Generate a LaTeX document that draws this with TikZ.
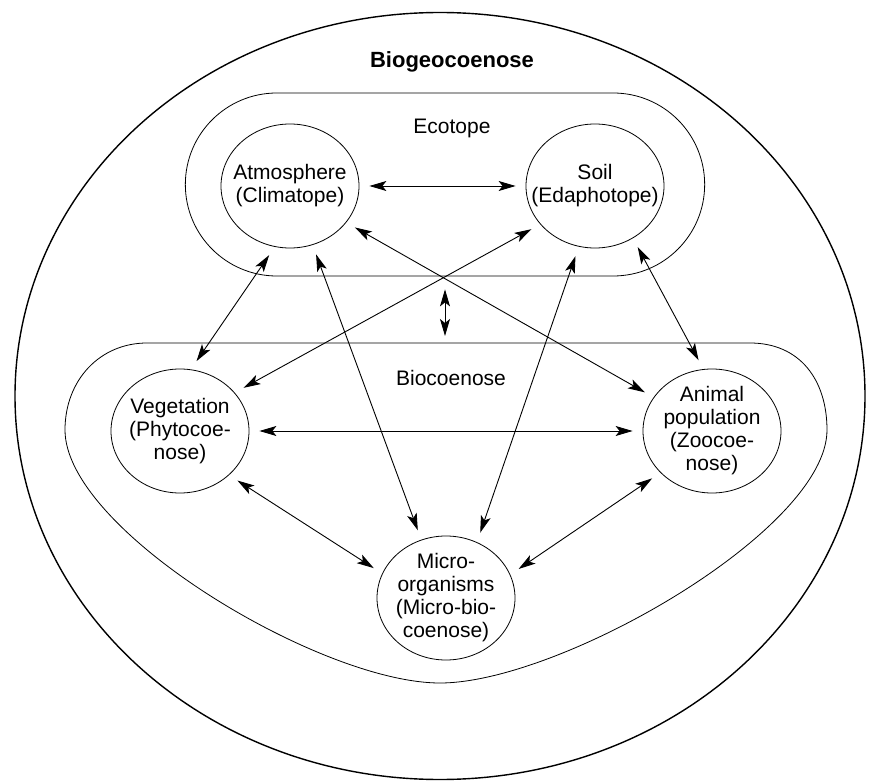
\documentclass[tikz,border=0pt]{standalone}
\usepackage{fontspec}
\setmainfont{Liberation Sans}
\usetikzlibrary{arrows.meta,shapes.geometric,shapes.misc}
\tikzset{
  region/.style={draw, ellipse, minimum width=138pt, minimum height=124pt, line width=0.8pt},
  txt/.style={align=center, font=\fontsize{21}{23}\selectfont},
  link/.style={{Stealth[length=17pt,width=10pt,inset=4pt]}-{Stealth[length=17pt,width=10pt,inset=4pt]}, line width=0.9pt, shorten >=10pt, shorten <=10pt}
}
\begin{document}
\begin{tikzpicture}[x=1pt, y=-1pt]
	\path[use as bounding box, fill=white] (0,0) rectangle (870,783);

	% systems
	\node[draw, ellipse, minimum width=850pt, minimum height=767pt, line width=1.4pt] (bgc) at (440,396) {};
	\node[font=\fontsize{22}{24}\selectfont\bfseries] (bgclbl) at (452,62) {Biogeocoenose};
	\node[draw, rounded rectangle, minimum width=526pt, minimum height=183pt, line width=0.8pt] (eco) at (445,184.5) {};
	\node[txt] (ecolbl) at (452,128) {Ecotope};
	\draw[line width=0.8pt] (147,343) -- (750,343) .. controls (800,343) and (827,380) .. (827,430)
		.. controls (827,530) and (560,683) .. (440,683)
		.. controls (320,683) and (65,530) .. (65,430)
		.. controls (65,380) and (100,343) .. (147,343);
	\coordinate (biotop) at (443,343);
	\node[txt] (biolbl) at (451,378) {Biocoenose};

	% components
	\node[region, label={[txt]center:Atmosphere\\(Climatope)}] (atm) at (290,186) {};
	\node[region, label={[txt]center:Soil\\(Edaphotope)}] (soil) at (595,186) {};
	\node[region, label={[txt]center:Vegetation\\(Phytocoe-\\nose)}] (veg) at (180,431) {};
	\node[region, label={[txt]center:Animal\\population\\(Zoocoe-\\nose)}] (anim) at (712,431) {};
	\node[region, label={[txt]center:Micro-\\organisms\\(Micro-bio-\\coenose)}] (micro) at (446,598) {};

	\path (atm.east) edge[link] (soil.west)
	(atm.256) edge[link] (veg.80)
	(atm.291) edge[link] (micro.113)
	(atm.327) edge[link] (anim.150)
	(soil.215) edge[link] (veg.35)
	(soil.255) edge[link] (micro.61)
	(soil.306) edge[link] (anim.98)
	(eco.south) edge[link, shorten <=13pt, shorten >=7pt] (eco.south |- biotop)
	(veg.east) edge[link] (anim.west)
	(veg.318) edge[link] (micro.159)
	(anim.219) edge[link] (micro.20);
\end{tikzpicture}
\end{document}
